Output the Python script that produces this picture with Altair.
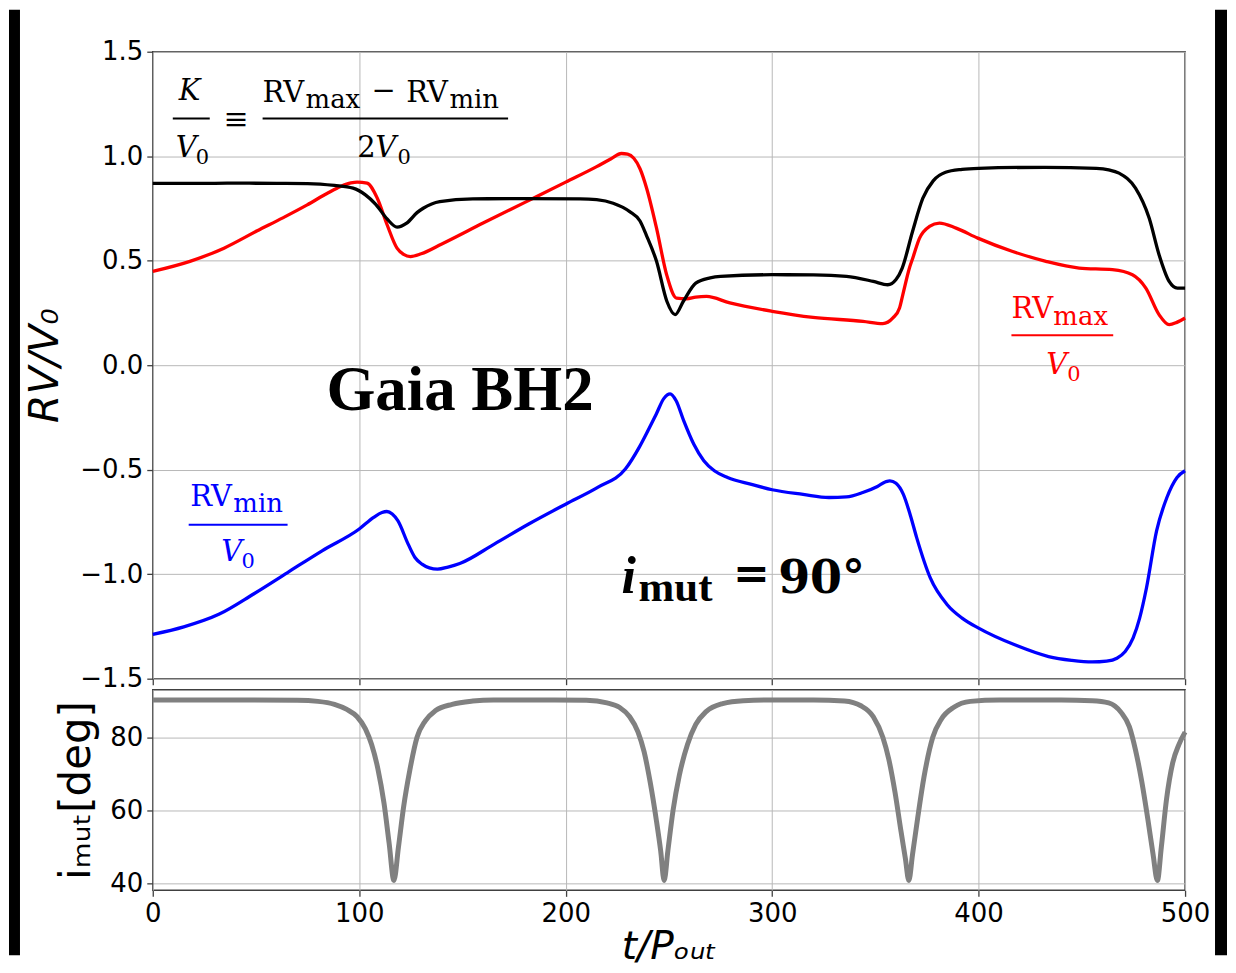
import altair as alt
import pandas as pd

# ---------------- data ----------------
T_TICKS = [0, 100, 200, 300, 400, 500]
RV_TICKS = [-1.5, -1.0, -0.5, 0.0, 0.5, 1.0, 1.5]
DEG_TICKS = [40, 60, 80]

black_t = [0, 20, 40, 60, 75, 88, 97, 103, 108, 113.5, 118.3, 123, 128, 131, 139, 155, 180, 207, 215, 223,
           231, 236, 239, 244, 249, 253, 257, 263, 270, 275, 300, 320, 336, 349, 356, 360, 363, 368, 373, 378,
           384, 392, 400, 432, 457, 463, 468, 476, 482.6, 487.4, 492.3, 496.3, 500]
black_rv = [0.870, 0.870, 0.871, 0.870, 0.869, 0.860, 0.847, 0.815, 0.770, 0.700, 0.661, 0.680, 0.730, 0.751,
            0.783, 0.796, 0.797, 0.796, 0.792, 0.775, 0.735, 0.690, 0.624, 0.497, 0.306, 0.242, 0.306, 0.393,
            0.418, 0.425, 0.433, 0.432, 0.425, 0.401, 0.385, 0.410, 0.465, 0.640, 0.799, 0.882, 0.923, 0.937,
            0.942, 0.947, 0.942, 0.935, 0.919, 0.847, 0.704, 0.529, 0.401, 0.369, 0.369]

red_t = [0, 18, 34.5, 50.6, 63, 74.8, 85, 91, 96, 99, 103.8, 108.7, 113.5, 118.3, 121.5, 124.8, 130, 140, 160,
         180, 200, 215, 222, 227, 230, 233, 236, 239.2, 244, 248.9, 253.7, 258.6, 263, 268.2, 279.5, 300, 319.8,
         344, 353.6, 358.5, 361.7, 363.3, 366.5, 368.1, 371.4, 376.2, 381, 389.1, 399.6, 416.5, 432.6, 448.7,
         464.8, 474.5, 481, 487.4, 492.3, 496, 500]
red_rv = [0.449, 0.497, 0.560, 0.643, 0.705, 0.767, 0.825, 0.855, 0.872, 0.876, 0.871, 0.800, 0.672, 0.560,
          0.530, 0.520, 0.533, 0.580, 0.680, 0.778, 0.876, 0.950, 0.988, 1.013, 1.010, 0.990, 0.940, 0.847,
          0.656, 0.433, 0.321, 0.318, 0.326, 0.329, 0.298, 0.258, 0.229, 0.210, 0.199, 0.226, 0.274, 0.338,
          0.465, 0.512, 0.608, 0.664, 0.680, 0.656, 0.608, 0.544, 0.497, 0.465, 0.457, 0.433, 0.369, 0.242,
          0.194, 0.205, 0.226]

blue_t = [0, 15, 32, 48.6, 65.3, 82, 100, 107, 111, 113.4, 116, 118.7, 123.7, 127, 130.4, 134, 137.9, 143,
          148.7, 165.4, 182.1, 200, 215.5, 228.9, 235.6, 240, 243.9, 247.5, 250.6, 253.5, 257.1, 262, 266.9,
          272, 278.4, 290, 300, 315, 327.5, 336, 343.9, 351, 355, 357, 360, 363.5, 367, 370, 376.6, 384.8, 392,
          400, 417.5, 433.9, 445, 455, 462, 467, 471, 474.8, 478, 481.3, 486.2, 491.2, 496.1, 500]
blue_rv = [-1.288, -1.252, -1.192, -1.096, -0.992, -0.888, -0.784, -0.728, -0.705, -0.700, -0.712, -0.744,
           -0.856, -0.920, -0.952, -0.970, -0.976, -0.966, -0.949, -0.856, -0.760, -0.665, -0.585, -0.497,
           -0.393, -0.310, -0.233, -0.160, -0.137, -0.170, -0.264, -0.377, -0.457, -0.505, -0.537, -0.570,
           -0.596, -0.618, -0.633, -0.630, -0.609, -0.580, -0.558, -0.553, -0.565, -0.617, -0.720, -0.825,
           -1.018, -1.146, -1.210, -1.258, -1.338, -1.394, -1.412, -1.420, -1.416, -1.402, -1.370, -1.306,
           -1.210, -1.066, -0.793, -0.633, -0.537, -0.505]

gray_t = [0, 40, 70, 80, 88, 94, 99, 103, 106, 109, 112, 114.5, 116.8, 119, 121.5, 124.5, 128, 132, 137, 145,
          155, 165,
          190, 210, 220, 226, 231, 235, 238, 241, 244, 246, 247.7, 249.5, 252, 255, 259, 263, 268, 276, 286, 300,
          320, 335, 343, 349, 353.6, 356.5, 359.5, 362.5, 364.5, 366.2, 368, 370.5, 373.5, 377.8, 382, 388, 396,
          410,
          440, 455, 463, 469, 473, 476, 479, 482, 484.5, 486.6, 488.5, 491, 494, 497, 500]
gray_deg = [90.2, 90.2, 90.1, 89.8, 89.0, 87.6, 85.6, 82.3, 78.0, 71.5, 62.0, 51.0, 40.9, 50.0, 61.0, 71.0,
            80.0, 84.5, 87.3, 89.0, 89.9, 90.2,
            90.2, 90.1, 89.4, 88.2, 85.6, 81.5, 76.0, 67.5, 57.0, 49.0, 40.9, 49.0, 60.0, 69.5, 78.0, 83.5,
            87.0, 89.2, 90.0, 90.2,
            90.2, 89.9, 88.6, 85.6, 80.0, 74.0, 65.0, 54.0, 47.0, 40.9, 48.0, 58.0, 69.0, 80.0, 85.0, 88.2,
            89.8, 90.2,
            90.2, 90.0, 89.4, 86.8, 82.9, 76.5, 68.0, 57.5, 48.0, 40.9, 50.0, 63.0, 73.0, 78.0, 81.4]

# annotation pieces (text, t position, RV position, font size, colour, style)
ann_txt = ["K", "V", "0", "RV", "max", "\u2212", "RV", "min", "2", "V", "0",
           "RV", "max", "V", "0",
           "RV", "min", "V", "0",
           "Gaia BH2", "i", "mut", "=", "90\u00b0", "\u2261"]
ann_t = [12.6, 11.1, 20.8, 53.2, 74.0, 105.9, 122.8, 143.7, 99.1, 107.8, 118.5,
         415.9, 436.2, 432.8, 442.9,
         18.2, 39.0, 33.2, 43.0,
         84.1, 227.0, 235.3, 281.0, 302.9, 34.3]
ann_rv = [1.271, 0.998, 0.965, 1.261, 1.232, 1.270, 1.261, 1.232, 0.998, 0.998, 0.965,
          0.224, 0.191, -0.043, -0.076,
          -0.674, -0.702, -0.936, -0.970,
          -0.212, -1.088, -1.127, -1.070, -1.088, 1.132]
ann_size = [29, 29, 21, 29, 26, 29, 29, 26, 29, 29, 21,
            29, 26, 29, 21,
            29, 26, 29, 21,
            63, 52, 43, 44, 46, 30]
ann_col = ["black"] * 11 + ["red"] * 4 + ["blue"] * 4 + ["black"] * 6
ann_sty = ["it", "it", "up", "up", "up", "up", "up", "up", "up", "it", "up",
           "up", "up", "it", "up",
           "up", "up", "it", "up",
           "bold", "boldit", "bold", "dvbold", "dvbold", "up"]

# fraction bars (t start, t end, RV, colour)
bar_t = [9.7, 53.2, 415.9, 17.4]
bar_t2 = [27.6, 172.1, 465.2, 65.3]
bar_rv = [1.180, 1.180, 0.143, -0.764]
bar_col = ["black", "black", "red", "blue"]

# ---------------- chart ----------------
x_scale = alt.Scale(domain=[0, 500], nice=False, zero=False)

x_top = alt.X("t:Q", scale=x_scale,
              axis=alt.Axis(values=T_TICKS, labels=False, title=None))
y_top = alt.Y("rv:Q", scale=alt.Scale(domain=[-1.5, 1.5], nice=False, zero=False),
              axis=alt.Axis(values=RV_TICKS, format=".1f",
                            labelExpr="replace(datum.label, '-', '\u2212')",
                            title="RV/V\u2080", titleFontStyle="italic", titleFontSize=41,
                            titleX=-107, titleY=314, titleAngle=270,
                            titleAlign="center", titleBaseline="middle"))


def curve(ts, vs, color, width):
    df = pd.DataFrame({"t": ts, "rv": vs})
    return alt.Chart(df).mark_line(color=color, strokeWidth=width, interpolate="monotone").encode(
        x=x_top, y=y_top)


ann_df = pd.DataFrame({"txt": ann_txt, "t": ann_t, "rv": ann_rv, "size": ann_size,
                       "col": ann_col, "sty": ann_sty})

styles = {
    "up": dict(font="DejaVu Serif"),
    "it": dict(font="DejaVu Serif", fontStyle="italic"),
    "bold": dict(font="Liberation Serif", fontWeight="bold"),
    "boldit": dict(font="Liberation Serif", fontWeight="bold", fontStyle="italic"),
    "dvbold": dict(font="DejaVu Serif", fontWeight="bold"),
}

text_layers = []
for key, kw in styles.items():
    text_layers.append(
        alt.Chart(ann_df).transform_filter(alt.datum.sty == key).mark_text(
            align="left", baseline="alphabetic", **kw).encode(
            x=x_top, y=y_top, text="txt:N",
            size=alt.Size("size:Q", scale=None),
            color=alt.Color("col:N", scale=None)))

bar_df = pd.DataFrame({"t": bar_t, "t2": bar_t2, "rv": bar_rv, "col": bar_col})
bars = alt.Chart(bar_df).mark_rule(strokeWidth=2).encode(
    x=x_top, x2="t2:Q", y=y_top, color=alt.Color("col:N", scale=None))

one = pd.DataFrame({"k": [0]})
frame_left = alt.Chart(one).mark_rect(color="black").encode(
    x=alt.value(-144), x2=alt.value(-133), y=alt.value(-42), y2=alt.value(905))
frame_right = alt.Chart(one).mark_rect(color="black").encode(
    x=alt.value(1064), x2=alt.value(1076), y=alt.value(-42), y2=alt.value(905))

top = alt.layer(
    frame_left, frame_right,
    curve(blue_t, blue_rv, "#0000ff", 3.3),
    curve(red_t, red_rv, "#ff0000", 3.3),
    curve(black_t, black_rv, "#000000", 3.3),
    bars, *text_layers
).properties(width=1034, height=628)

gray_df = pd.DataFrame({"t": gray_t, "deg": gray_deg})
x_bot = alt.X("t:Q", scale=x_scale,
              axis=alt.Axis(values=T_TICKS, title="t/P\u2092\u1d64\u209c", titleFontStyle="italic",
                            titleFontSize=39, titleY=68, titleBaseline="alphabetic"))
y_bot = alt.Y("deg:Q", scale=alt.Scale(domain=[38.2, 93.0], nice=False, zero=False),
              axis=alt.Axis(values=DEG_TICKS, title="i\u2098\u1d64\u209c[deg]", titleFontSize=42,
                            titleX=-76, titleY=100.5, titleAngle=270,
                            titleAlign="center", titleBaseline="middle"))
bottom = alt.Chart(gray_df).mark_line(color="#808080", strokeWidth=5, interpolate="monotone").encode(
    x=x_bot, y=y_bot).properties(width=1034, height=201)

chart = alt.vconcat(top, bottom, spacing=11, bounds="flush").properties(
    padding=0, background="white"
).configure_view(
    stroke="#404040", strokeWidth=1.5
).configure_axis(
    grid=True, gridColor="#b8b8b8", gridWidth=1, domain=False,
    ticks=True, tickColor="#404040", tickWidth=1.3, tickSize=6,
    labelPadding=4, labelFont="DejaVu Sans", labelFontSize=26, labelColor="black",
    labelFlush=False, labelOverlap=False,
    titleFont="DejaVu Sans", titleFontSize=36, titleColor="black", titleFontWeight="normal"
)

chart.save("out.html", embed_options={"renderer": "svg", "actions": False})
